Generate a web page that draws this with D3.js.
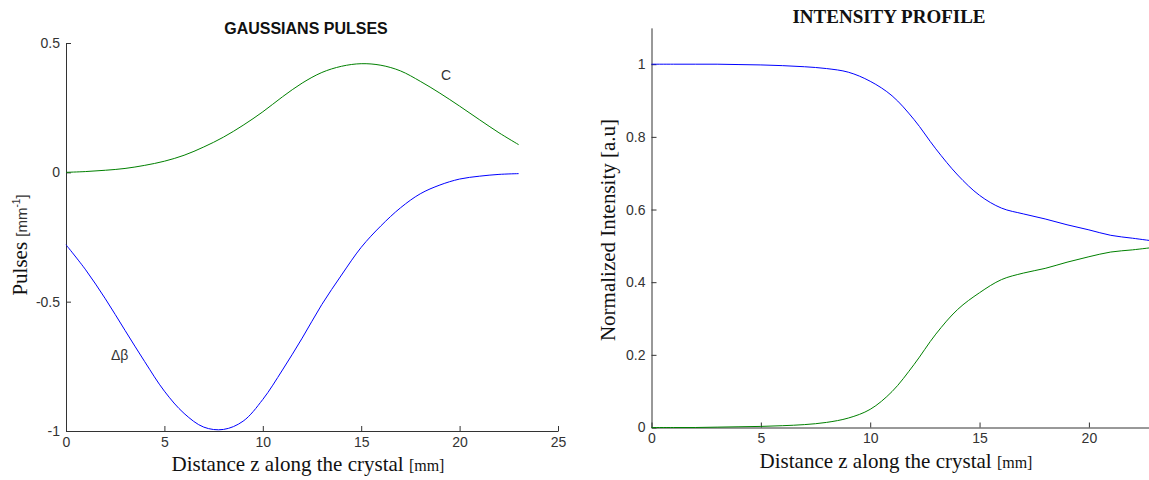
<!DOCTYPE html>
<html>
<head>
<meta charset="utf-8">
<script src="https://cdn.jsdelivr.net/npm/d3@7/dist/d3.min.js"></script>
<style>
  html, body { margin: 0; padding: 0; background: #fff; }
  svg { display: block; }
  .tick text { font-family: "Liberation Sans", Arial, sans-serif; font-size: 14px; fill: #333; }
  .domain, .tick line { stroke: #333; stroke-width: 1; }
</style>
</head>
<body>
<svg id="chart" width="1149" height="480"></svg>
<script>
// ---------- DATA ----------
const zValues = [0,1,2,3,4,5,6,7,8,9,10,11,12,13,14,15,16,17,18,19,20,21,22,23];

// Left chart: Gaussian pulses
const deltaBeta = [-0.28,-0.377,-0.489,-0.611,-0.732,-0.846,-0.932,-0.985,-0.994,-0.962,-0.878,-0.764,-0.641,-0.511,-0.397,-0.29,-0.207,-0.137,-0.083,-0.049,-0.026,-0.015,-0.008,-0.005];
const cPulse    = [0.0,0.003,0.008,0.015,0.027,0.043,0.066,0.098,0.136,0.182,0.234,0.292,0.345,0.386,0.41,0.42,0.414,0.392,0.352,0.306,0.256,0.204,0.153,0.107];

// Right chart: intensity profile
const intensity1 = [1.0,1.0,1.0,1.0,0.999,0.998,0.996,0.993,0.988,0.978,0.953,0.913,0.848,0.767,0.695,0.639,0.604,0.588,0.574,0.558,0.544,0.529,0.521,0.513];
const intensity2 = [0.0,0.0,0.0,0.001,0.002,0.003,0.005,0.008,0.014,0.026,0.05,0.099,0.173,0.257,0.325,0.371,0.407,0.425,0.438,0.455,0.47,0.483,0.489,0.496];

const leftXTicks = [0,5,10,15,20,25];
const leftYTicks = [-1,-0.5,0,0.5];
const leftYTickLabels = ["-1","-0.5","0","0.5"];
const rightXTicks = [0,5,10,15,20];
const rightYTicks = [0,0.2,0.4,0.6,0.8,1];
const rightYTickLabels = ["0","0.2","0.4","0.6","0.8","1"];

// ---------- DRAW ----------
const svg = d3.select("#chart");
const serif = '"Liberation Serif", "Times New Roman", serif';
const sans = '"Liberation Sans", Arial, sans-serif';

// Left chart scales
const xL = d3.scaleLinear().domain([0,25]).range([66,558]);
const yL = d3.scaleLinear().domain([-1,0.5]).range([431,43]);

// Right chart scales
const xR = d3.scaleLinear().domain([0,23]).range([651.5,651.5+23*21.87]);
const yR = d3.scaleLinear().domain([0,1.1]).range([427.5,427.5-1.1*363.3]);

function drawAxes(x, y, xt, yt, ytl) {
  svg.append("g").attr("transform", `translate(0,${y.range()[0]})`)
    .call(d3.axisBottom(x).tickValues(xt).tickFormat(d3.format("d")).tickSizeInner(-5).tickSizeOuter(0).tickPadding(6));
  svg.append("g").attr("transform", `translate(${x.range()[0]},0)`)
    .call(d3.axisLeft(y).tickValues(yt).tickFormat((d,i)=>ytl[i]).tickSizeInner(-5).tickSizeOuter(0).tickPadding(6));
}

drawAxes(xL, yL, leftXTicks, leftYTicks, leftYTickLabels);
drawAxes(xR, yR, rightXTicks, rightYTicks, rightYTickLabels);

function drawLine(x, y, vals, color) {
  const line = d3.line().x((d,i)=>x(zValues[i])).y(d=>y(d)).curve(d3.curveCatmullRom.alpha(0.5));
  svg.append("path").datum(vals).attr("d", line)
    .attr("fill","none").attr("stroke",color).attr("stroke-width",1);
}

drawLine(xL, yL, cPulse, "#008000");
drawLine(xL, yL, deltaBeta, "#0000ff");
drawLine(xR, yR, intensity1, "#0000ff");
drawLine(xR, yR, intensity2, "#008000");

// Titles
svg.append("text").attr("x",306).attr("y",34).attr("text-anchor","middle")
  .attr("font-family",sans).attr("font-weight","bold").attr("font-size",16).attr("fill","#111")
  .text("GAUSSIANS PULSES");
svg.append("text").attr("x",889).attr("y",23).attr("text-anchor","middle")
  .attr("font-family",serif).attr("font-weight","bold").attr("font-size",19).attr("fill","#111")
  .text("INTENSITY PROFILE");

// X labels
function xLabel(cx, by) {
  const t = svg.append("text").attr("x",cx).attr("y",by).attr("text-anchor","middle")
    .attr("font-family",serif).attr("font-size",21).attr("fill","#111");
  t.append("tspan").text("Distance z along the crystal ");
  t.append("tspan").attr("font-size",16).text("[mm]");
}
xLabel(308, 471);
xLabel(896, 468);

// Left Y label
{
  const t = svg.append("text").attr("transform","translate(27,245) rotate(-90)")
    .attr("text-anchor","middle").attr("font-family",serif).attr("font-size",21).attr("fill","#111");
  t.append("tspan").text("Pulses ");
  t.append("tspan").attr("font-family",sans).attr("font-size",15).attr("fill","#333").text("[mm");
  t.append("tspan").attr("font-family",sans).attr("font-size",10).attr("fill","#333").attr("dy",-7).text("-1");
  t.append("tspan").attr("font-family",sans).attr("font-size",15).attr("fill","#333").attr("dy",7).text("]");
}
// Right Y label
svg.append("text").attr("transform","translate(615,230) rotate(-90)")
  .attr("text-anchor","middle").attr("font-family",serif).attr("font-size",21).attr("fill","#111")
  .text("Normalized Intensity [a.u]");

// Annotations
svg.append("text").attr("x",441).attr("y",80).attr("font-family",sans).attr("font-size",14).attr("fill","#333").text("C");
svg.append("text").attr("x",111).attr("y",360).attr("font-family",sans).attr("font-size",14).attr("fill","#333").text("Δβ");
</script>
</body>
</html>
